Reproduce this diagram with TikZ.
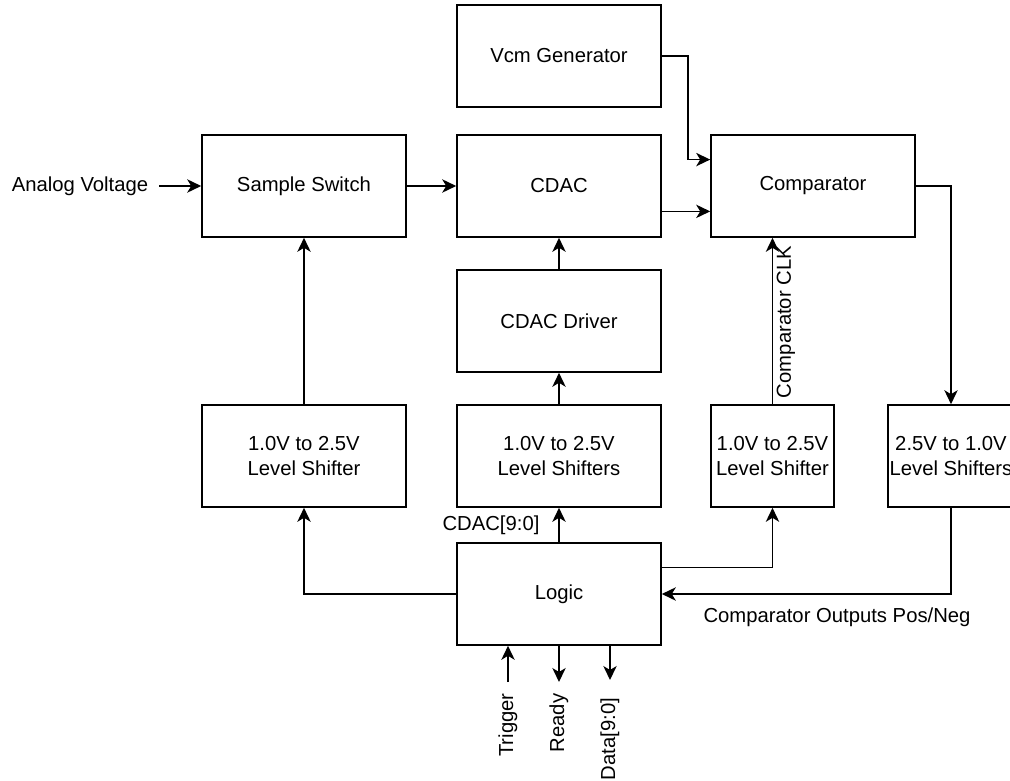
\documentclass[tikz,border=0pt]{standalone}
\usepackage{fontspec}
\setmainfont{Liberation Sans}
\usetikzlibrary{arrows.meta,calc}
\begin{document}
\begin{tikzpicture}[x=0.75pt,y=-0.75pt,
  blk/.style={draw,line width=1.2pt,minimum width=153pt,minimum height=76.5pt,inner sep=0pt,align=center,font=\fontsize{15.2}{18.75}\selectfont},
  lbl/.style={inner sep=0pt,font=\fontsize{15.2}{18.75}\selectfont},
  arr/.style={line width=1.2pt,-{Stealth[length=10.5pt,width=10pt,inset=3pt]}},
  ln/.style={line width=1.2pt}]
\useasboundingbox (0,0) rectangle (1010,781);
\clip (0,0) rectangle (1010,781);
% blocks
\node[blk] (vcm) at (559,56) {Vcm Generator};
\node[blk] (ss) at (304,186) {Sample Switch};
\node[blk] (cdac) at (559,186) {CDAC};
\node[blk] (comp) at (813,186) {Comparator};
\node[blk] (drv) at (559,321) {CDAC Driver};
\node[blk] (ls1) at (304,456) {1.0V to 2.5V\\Level Shifter};
\node[blk] (ls2) at (559,456) {1.0V to 2.5V\\Level Shifters};
\node[blk,minimum width=92.25pt] (ls3) at (772.5,456) {1.0V to 2.5V\\Level Shifter};
\node[blk,minimum width=94.5pt] (ls4) at (951,456) {2.5V to 1.0V\\Level Shifters};
\node[blk] (logic) at (559,594) {Logic};
% labels
\node[lbl] (av) at (80,186) {Analog Voltage};
\node[lbl] (cdaclbl) at (491,525) {CDAC[9:0]};
\node[lbl,rotate=90] (clklbl) at (786,322) {Comparator CLK};
\node[lbl] (outlbl) at (837,617) {Comparator Outputs Pos/Neg};
\node[lbl,rotate=90] (trig) at (508,725) {Trigger};
\node[lbl,rotate=90] (rdy) at (559,723) {Ready};
\node[lbl,rotate=90] (data) at (610,739) {Data[9:0]};
% connectors
\draw[arr] ([xshift=8pt]av.east) -- (ss.west);
\draw[arr] (ss.east) -- (cdac.west);
\draw[arr] (vcm.east) -- ++(26,0) |- ($(comp.north west)!0.245!(comp.south west)$);
\draw[arr] ($(cdac.north east)!0.745!(cdac.south east)$) -- ($(comp.north west)!0.745!(comp.south west)$);
\draw[arr] (comp.east) -| (ls4.north);
\draw[arr] (ls4.south) |- (logic.east);
\draw[arr] ($(logic.north east)!0.245!(logic.south east)$) -| (ls3.south);
\draw[arr] (ls3.north) -- (ls3.north |- comp.south);
\draw[arr] (ls1.north) -- (ss.south);
\draw[arr] (logic.west) -| (ls1.south);
\draw[arr] (logic.north) -- (ls2.south);
\draw[arr] (ls2.north) -- (drv.south);
\draw[arr] (drv.north) -- (cdac.south);
\coordinate (t0) at (508,682);
\draw[arr] (t0) -- (t0 |- logic.south);
\coordinate (r1) at (559,682);
\draw[arr] (logic.south) -- (r1);
\coordinate (d0) at (610,645);
\coordinate (d1) at (610,680);
\draw[arr] (d0) -- (d1);
\end{tikzpicture}
\end{document}
